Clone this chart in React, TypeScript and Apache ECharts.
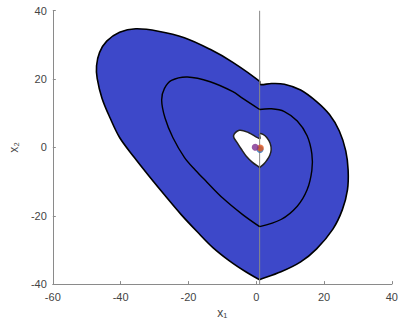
import React, { useEffect, useRef } from "react";
import * as echarts from "echarts";

// Outer boundary of the shaded region: left branch (from the switching line, counter-clockwise to the lower cusp)
const outerLeft: number[][] = [
  [1, 19.3], [-6.9, 24.9], [-13.6, 28.7], [-21.2, 32.1], [-28.9, 34], [-35.5, 34.7], [-40.3, 33.7],
  [-44.1, 31.1], [-46.2, 27.8], [-47.1, 23.9], [-46.9, 20.1], [-45.5, 14.4], [-43.1, 8.6],
  [-40.3, 2.9], [-36, -2.9], [-31.7, -8.3], [-26.9, -14.1], [-22.2, -19.6], [-17.4, -24.7],
  [-12.7, -29.4], [-7.9, -33.2], [-3.1, -36.4], [0.9, -38.7],
];
// Outer boundary: right branch (from the lower cusp back up to the switching line)
const outerRight: number[][] = [
  [0.9, -38.7], [7.3, -36.4], [13.1, -33.5], [17.8, -29.7], [22.6, -23.9], [25.4, -18.2],
  [26.9, -12.4], [27.1, -6.7], [26.4, -1], [24.5, 4.8], [21.6, 9.6], [17.8, 13.4], [13.1, 16.8],
  [8.3, 18.5], [4.5, 18.7], [1.1, 18.4],
];
// Inner trajectory loop
const middleLeft: number[][] = [
  [1, 11.1], [-4.1, 14.4], [-6.9, 16.3], [-13.6, 19.2], [-20.3, 20.6], [-25, 19.6], [-27.1, 17.2],
  [-27.9, 13.9], [-26.9, 8.6], [-24.6, 2.9], [-21.2, -2.9], [-18, -6.6], [-14.6, -10.1],
  [-9.8, -14.9], [-4.1, -19.6], [1, -23.2],
];
const middleRight: number[][] = [
  [1, -23.2], [7.3, -21.1], [12.1, -17.2], [15, -12.4], [16.4, -6.7], [16.4, -1.9], [15, 3.4],
  [12.1, 7.7], [8.3, 10.5], [4.5, 11.3], [1, 11.1],
];
// Unshaded hole around the origin, left and right lobes
const holeLeft: number[][] = [
  [1, 2.6], [-2.2, 4.3], [-5, 5], [-6.7, 3.4], [-5.5, 1.2], [-4.2, -0.8], [-3, -2.5],
  [-1.2, -4.3], [1, -5.9],
];
const holeRight: number[][] = [
  [1, -5.9], [2.2, -4.9], [3.1, -3.8], [4.0, -2.3], [4.4, -0.7], [4.1, 1.2], [3.1, 2.9],
  [2.0, 3.8], [1, 4.0],
];
// Switching line x1 = 1
const switchLine: number[][] = [[1, -40], [1, 40]];
// Equilibrium markers
const equilibria: { value: number[]; color: string }[] = [
  { value: [1.1, -0.6], color: "#2a6fb8" },
  { value: [1.2, -0.2], color: "#e0561e" },
  { value: [-0.3, 0.05], color: "#7e2f8e" },
];

const xTicks = { min: -60, max: 40, interval: 20 };
const yTicks = { min: -40, max: 40, interval: 20 };

const FILL = "#3d48c9";
const FONT = "Liberation Sans, DejaVu Sans, sans-serif";
const SMOOTH = 0.35;

// Closed smoothed region; a point repeated where two branches meet keeps that corner sharp
const regionSeries = (branches: number[][][], fill: string, stroke: string, width: number, z: number) => ({
  type: "custom",
  coordinateSystem: "cartesian2d",
  data: [0],
  z,
  silent: true,
  renderItem: (_params: any, api: any) => ({
    type: "polygon",
    shape: {
      points: branches.flat().map((p) => api.coord(p)),
      smooth: SMOOTH,
    },
    style: { fill, stroke, lineWidth: width, lineJoin: "round" },
  }),
});

const curveSeries = (points: number[][], color: string, width: number, z: number) => ({
  type: "custom",
  coordinateSystem: "cartesian2d",
  data: [0],
  z,
  silent: true,
  renderItem: (_params: any, api: any) => ({
    type: "polyline",
    shape: { points: points.map((p) => api.coord(p)), smooth: SMOOTH },
    style: { fill: null, stroke: color, lineWidth: width },
  }),
});

export default function App() {
  const ref = useRef<HTMLDivElement>(null);

  useEffect(() => {
    if (!ref.current) return;
    const chart = echarts.init(ref.current, null, { renderer: "svg" });
    const axisCommon = {
      type: "value" as const,
      splitLine: { show: false },
      axisLine: { show: true, onZero: false, lineStyle: { color: "#8a8a8a", width: 1 } },
      axisTick: { show: true, inside: true, length: 3, lineStyle: { color: "#8a8a8a" } },
      axisLabel: { color: "#444", fontSize: 11, fontFamily: FONT },
      nameLocation: "middle" as const,
      nameTextStyle: { color: "#444", fontSize: 12, fontFamily: FONT },
    };
    chart.setOption({
      animation: false,
      backgroundColor: "#ffffff",
      grid: { left: 43.3, right: 6.7, top: 10.7, bottom: 35 },
      xAxis: {
        ...axisCommon,
        ...xTicks,
        name: "x\u2081",
        nameGap: 21,
        axisLabel: { ...axisCommon.axisLabel, margin: 7 },
      },
      yAxis: {
        ...axisCommon,
        ...yTicks,
        name: "x\u2082",
        nameGap: 26,
        axisLabel: { ...axisCommon.axisLabel, margin: 6 },
      },
      series: [
        regionSeries([outerLeft, outerRight], FILL, "#000", 1.6, 1),
        regionSeries([holeLeft, holeRight], "#ffffff", "#222", 1.5, 2),
        {
          type: "line",
          data: switchLine,
          symbol: "none",
          z: 3,
          silent: true,
          lineStyle: { color: "#888", width: 1 },
        },
        curveSeries(middleLeft, "#000", 1.4, 4),
        curveSeries(middleRight, "#000", 1.4, 4),
        {
          type: "scatter",
          z: 5,
          symbolSize: 7,
          data: equilibria.map((e) => ({ value: e.value, itemStyle: { color: e.color } })),
        },
      ],
    });
    return () => chart.dispose();
  }, []);

  return (
    <div
      ref={ref}
      style={{ position: "fixed", left: 0, top: 0, width: 401, height: 324 }}
    />
  );
}
